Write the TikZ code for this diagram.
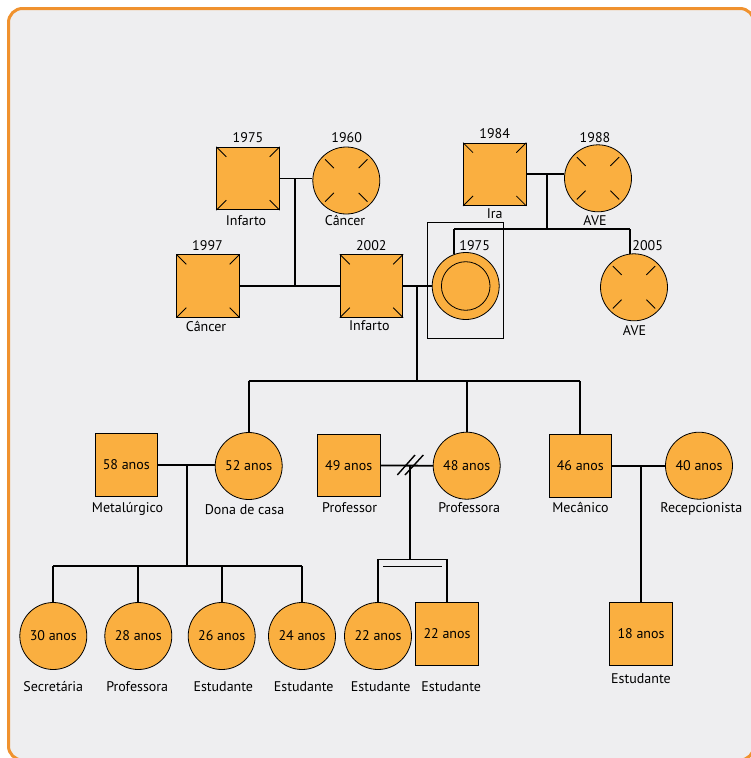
\documentclass[tikz,border=0pt]{standalone}
\usepackage{fontspec}
\setmainfont{PT Sans}
\definecolor{pedor}{HTML}{FAAF40}
\definecolor{frameor}{HTML}{F0922E}
\definecolor{bggray}{HTML}{EEEEF0}
\newcommand\pedfont{\fontsize{14pt}{16pt}\selectfont}
\newcommand\deadsq[1]{%
  \draw[tick] (#1.north west) -- ++(10,10);
  \draw[tick] (#1.north east) -- ++(-10,10);
  \draw[tick] (#1.south west) -- ++(10,-10);
  \draw[tick] (#1.south east) -- ++(-10,-10);}
\newcommand\deadci[1]{%
  \foreach \a in {45,135,225,315}{\draw[tick] ([shift={(\a:30)}]#1.center) -- ([shift={(\a:17.5)}]#1.center);}}
\begin{document}
\begin{tikzpicture}[x=1pt,y=-1pt,
  male/.style={rectangle, draw=black, line width=0.8pt, fill=pedor, minimum size=62.5pt, inner sep=0pt, font=\pedfont},
  female/.style={circle, draw=black, line width=0.8pt, fill=pedor, minimum size=67pt, inner sep=0pt, font=\pedfont},
  conn/.style={line width=1.8pt, black, line join=miter},
  tick/.style={line width=0.8pt, black},
  lab/.style={font=\pedfont, inner sep=0pt, text height=9.8pt, text depth=0pt, anchor=center}]
\useasboundingbox (0,0) rectangle (750,758);
\fill[white] (0,0) rectangle (750,758);
\draw[frameor, line width=3pt, fill=bggray, rounded corners=14pt] (8.5,8.5) rectangle (754,760);

% ---------- generation I ----------
\node[male] (gpA) at (248,178.5) {};
\node[female] (gpB) at (346.3,180.5) {};
\node[male] (gp84) at (494.7,174.3) {};
\node[female] (gp88) at (598,178.3) {};
% ---------- generation II ----------
\node[male] (u97) at (208,286) {};
\node[male] (u02) at (371.5,286) {};
\node[female] (gm) at (465.7,286) {};
\draw[line width=0.8pt] (gm.center) circle (24.3);
\node[draw=black, line width=1pt, minimum width=76pt, minimum height=116pt, inner sep=0pt] (gmbox) at (465.3,280.3) {};
\node[female] (a05) at (634,287.3) {};

\deadsq{gpA}\deadci{gpB}\deadsq{gp84}\deadci{gp88}\deadsq{u97}\deadsq{u02}\deadci{a05}

% ---------- generation III ----------
\node[male] (s58) at (126.3,465) {58 anos};
\node[female] (m52) at (248.7,466) {52 anos};
\node[male] (s49) at (348.7,465.5) {49 anos};
\node[female] (f48) at (466.7,465.7) {48 anos};
\node[male] (s46) at (580.3,466) {46 anos};
\node[female] (c40) at (699,465.7) {40 anos};
% ---------- generation IV ----------
\node[female] (c30) at (53.3,636) {30 anos};
\node[female] (c28) at (138.3,636) {28 anos};
\node[female] (c26) at (221.7,636) {26 anos};
\node[female] (c24) at (302,636) {24 anos};
\node[female] (c22) at (378,636) {22 anos};
\node[male] (q22) at (447,633.7) {22 anos};
\node[male] (q18) at (641,633.7) {18 anos};

% ---------- connectors ----------
\draw[conn] (gpA.east) -- (gpB.west |- gpA.east);
\coordinate (j1) at (295.3,178.5);
\draw[conn] (j1) -- (j1 |- u97.east);
\draw[conn] (u97.east) -- (u02.west);
\draw[conn] (u02.east) -- (gm.west);
\coordinate (j2) at (416.7,286);
\coordinate (j2b) at (416.7,381);
\draw[conn] (j2) -- (j2b);
\draw[conn] (m52.north |- j2b) -- (s46.north |- j2b);
\draw[conn] (m52.north |- j2b) -- (m52.north);
\draw[conn] (f48.north |- j2b) -- (f48.north);
\draw[conn] (s46.north |- j2b) -- (s46.north);

\draw[conn] (gp84.east) -- (gp88.west |- gp84.east);
\coordinate (j3) at (546.7,174.3);
\coordinate (j3b) at (546.7,229);
\draw[conn] (j3) -- (j3b);
\draw[conn] (gm.110 |- j3b) -- (a05.97 |- j3b);
\draw[conn] (gm.110 |- j3b) -- (gm.110);
\draw[conn] (a05.97 |- j3b) -- (a05.97);

\draw[conn] (s58.east) -- (m52.west |- s58.east);
\coordinate (j4) at (186.7,465);
\coordinate (j4b) at (186.7,566);
\draw[conn] (j4) -- (j4b);
\draw[conn] (c30.north |- j4b) -- (c24.north |- j4b);
\foreach \c in {c30,c28,c26,c24}{\draw[conn] (\c.north |- j4b) -- (\c.north);}

\draw[conn] (s49.east) -- (f48.west);
\coordinate (j5) at (410,465.5);
\coordinate (j5b) at (410,559.5);
\draw[conn] (j5) -- (j5b);
\draw[line width=1.4pt] ([shift={(-12.7,9.5)}]j5) -- ([shift={(5,-10.5)}]j5);
\draw[line width=1.4pt] ([shift={(-5,9.5)}]j5) -- ([shift={(13.3,-10.5)}]j5);
\coordinate (tL) at (c22.north |- j5b);
\coordinate (tR) at (q22.north |- j5b);
\draw[conn] (c22.north) -- (tL) -- (tR) -- (q22.north);
\draw[conn] ([shift={(5,7)}]tL) -- ([shift={(-5,7)}]tR);

\draw[conn] (s46.east) -- (c40.west |- s46.east);
\coordinate (j6) at (641,466);
\draw[conn] (j6) -- (j6 |- q18.north);

% ---------- labels ----------
\node[lab] (l1) at (248,138) {1975};
\node[lab] (l2) at (246,221) {Infarto};
\node[lab] (l3) at (346.7,138) {1960};
\node[lab] (l4) at (345,221) {Câncer};
\node[lab] (l5) at (207.5,246) {1997};
\node[lab] (l6) at (206,326.7) {Câncer};
\node[lab] (l7) at (371.3,246) {2002};
\node[lab] (l8) at (369.3,326) {Infarto};
\node[lab] (l9) at (494.7,134) {1984};
\node[lab] (l10) at (494.7,214) {Ira};
\node[lab] (l11) at (595,138) {1988};
\node[lab] (l12) at (595,220.7) {AVE};
\node[lab] (l13) at (474.7,246) {1975};
\node[lab] (l14) at (647.7,246) {2005};
\node[lab] (l15) at (634.5,330.7) {AVE};
\node[lab] (l16) at (127.5,507.7) {Metalúrgico};
\node[lab] (l17) at (244.5,510) {Dona de casa};
\node[lab] (l18) at (349.7,507.3) {Professor};
\node[lab] (l19) at (469.2,507.7) {Professora};
\node[lab] (l20) at (580.5,507.7) {Mecânico};
\node[lab] (l21) at (701.3,507.7) {Recepcionista};
\node[lab] (l22) at (53.3,686.5) {Secretária};
\node[lab] (l23) at (137.2,686.5) {Professora};
\node[lab] (l24) at (223.3,686.5) {Estudante};
\node[lab] (l25) at (303.7,686.5) {Estudante};
\node[lab] (l26) at (380.7,686.5) {Estudante};
\node[lab] (l27) at (451.2,686.5) {Estudante};
\node[lab] (l28) at (641,678.3) {Estudante};
\end{tikzpicture}
\end{document}
